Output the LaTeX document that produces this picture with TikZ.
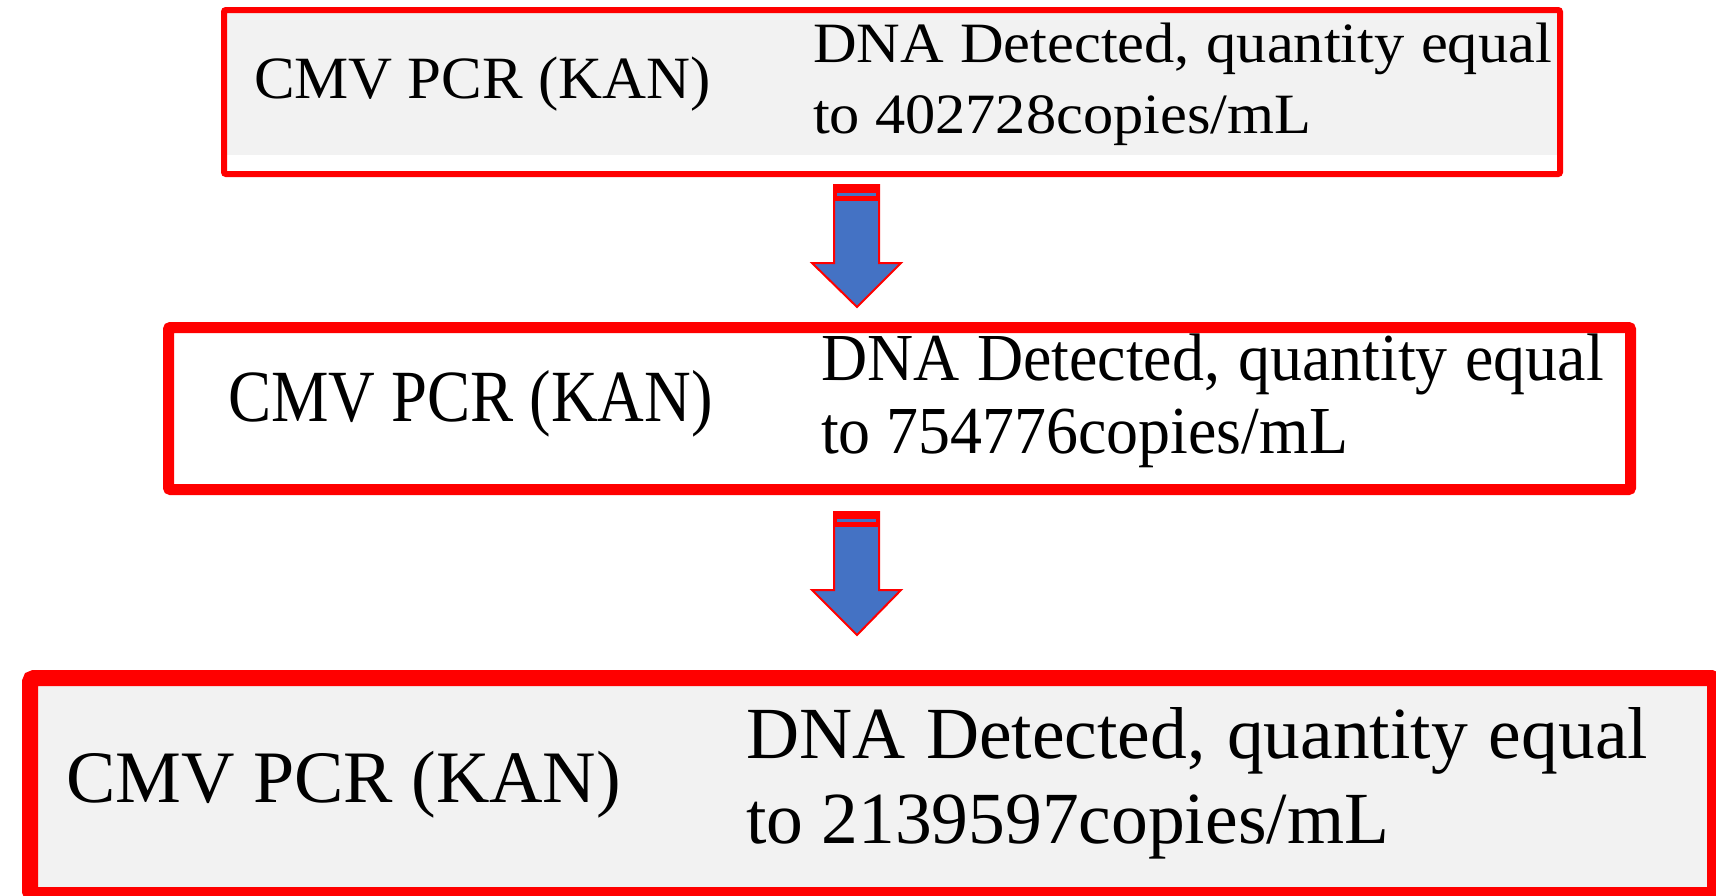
\documentclass[tikz,border=0pt]{standalone}
\usepackage{fontspec}
\setmainfont{Liberation Serif}
\definecolor{boxred}{HTML}{FF0000}
\definecolor{cellgrey}{HTML}{F2F2F2}
\definecolor{arrowblue}{HTML}{4472C4}
\tikzset{
  frame/.style={draw=boxred, rounded corners=2pt, inner sep=0pt, outer sep=0pt, anchor=center},
  txt/.style={anchor=base west, inner sep=0pt, outer sep=0pt, text=black},
  blockarrow/.style={fill=arrowblue, draw=boxred, line width=2pt, line join=miter},
  band/.style={fill=boxred},
  stripe/.style={fill=arrowblue},
}
\begin{document}
\begin{tikzpicture}[x=1pt,y=-1pt]
\useasboundingbox (0,0) rectangle (1716,895);
\clip (0,0) rectangle (1716,895);
\fill[white] (0,0) rectangle (1716,895);

% box 1
\fill[cellgrey] (227,13) rectangle (1557,155);
\node[frame, line width=6pt, minimum width=1336pt, minimum height=164pt] (b1) at (892,92) {};
\node[txt, font=\fontsize{60}{60}\selectfont] (l1) at (254,98) {\scalebox{1.015}[1]{CMV PCR (KAN)}};
\node[txt, font=\fontsize{57}{57}\selectfont] (r1a) at (813,62) {\scalebox{1.06}[1]{\makebox[697pt][s]{DNA Detected, quantity equal}}};
\node[txt, font=\fontsize{57}{57}\selectfont] (r1b) at (813,133) {\scalebox{1.06}[1]{to 402728copies/mL}};

% box 2
\node[frame, line width=11pt, fill=white, minimum width=1462pt, minimum height=162pt] (b2) at (899.5,408.5) {};
\node[txt, font=\fontsize{64}{64}\selectfont] (l2) at (228,421) {\scalebox{1.01}[1.15]{CMV PCR (KAN)}};
\node[txt, font=\fontsize{60}{60}\selectfont] (r2a) at (821,380) {\scalebox{1.065}[1.12]{\makebox[735pt][s]{DNA Detected, quantity equal}}};
\node[txt, font=\fontsize{60}{60}\selectfont] (r2b) at (821,453) {\scalebox{1.065}[1.12]{to 754776copies/mL}};

% box 3
\node[frame, line width=16pt, fill=cellgrey, rounded corners=4pt, minimum width=1685pt, minimum height=217pt] (b3) at (872.5,786.5) {};
\node[txt, font=\fontsize{74}{74}\selectfont] (l3) at (66,802) {CMV PCR (KAN)};
\node[txt, font=\fontsize{73.5}{74}\selectfont] (r3a) at (746,758) {\makebox[902pt][s]{DNA Detected, quantity equal}};
\node[txt, font=\fontsize{73.5}{74}\selectfont] (r3b) at (746,843) {to 2139597copies/mL};

% arrow 1
\draw[blockarrow] (834,185) -- (879,185) -- (879,263) -- (901,263) -- (857,307) -- (812,263) -- (834,263) -- cycle;
\fill[band] (833,184) rectangle (880,201);
\fill[stripe] (837,193) rectangle (876,196);

% arrow 2
\draw[blockarrow] (834,512) -- (879,512) -- (879,590) -- (901,590) -- (857,635) -- (812,590) -- (834,590) -- cycle;
\fill[band] (833,511) rectangle (880,527);
\fill[stripe] (837,519) rectangle (876,522);
\end{tikzpicture}
\end{document}
